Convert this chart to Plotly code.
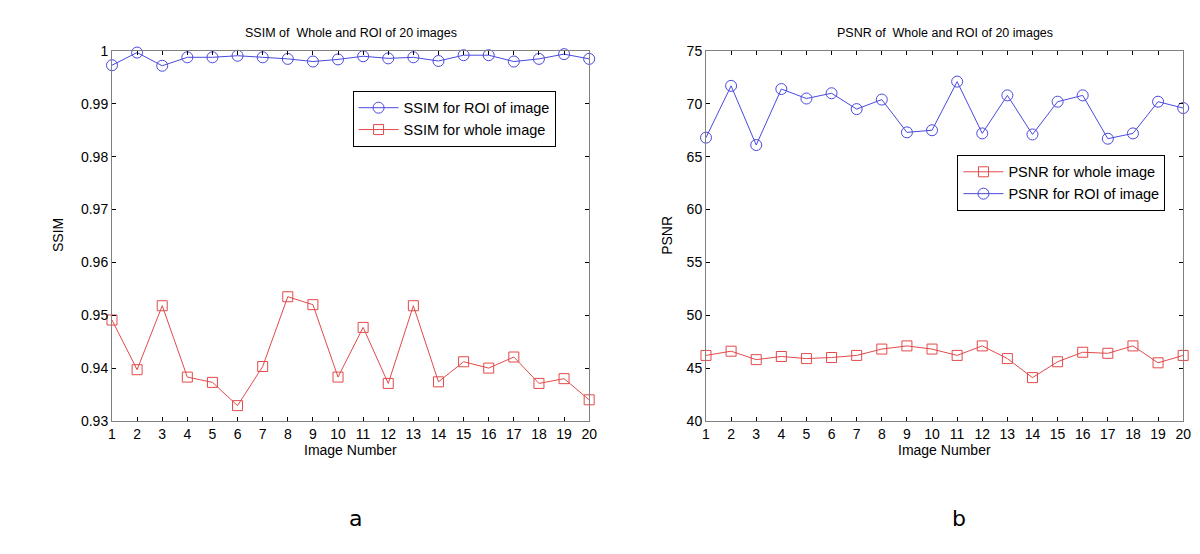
import plotly.graph_objects as go

image_numbers = list(range(1, 21))

ssim_roi = [0.9973, 0.9997, 0.9972, 0.9988, 0.9988, 0.9991, 0.9988, 0.9985, 0.9980, 0.9984,
            0.9990, 0.9986, 0.9988, 0.9981, 0.9992, 0.9992, 0.9980, 0.9985, 0.9994, 0.9985]
ssim_whole = [0.9491, 0.9397, 0.9518, 0.9383, 0.9373, 0.9329, 0.9403, 0.9535, 0.9520, 0.9383,
              0.9477, 0.9371, 0.9518, 0.9374, 0.9412, 0.9400, 0.9421, 0.9371, 0.9380, 0.9340]
psnr_whole = [46.2, 46.6, 45.8, 46.1, 45.9, 46.0, 46.2, 46.8, 47.1, 46.8,
              46.2, 47.1, 45.9, 44.1, 45.6, 46.5, 46.4, 47.1, 45.5, 46.2]
psnr_roi = [66.8, 71.7, 66.1, 71.4, 70.5, 71.0, 69.5, 70.4, 67.3, 67.5,
            72.1, 67.2, 70.8, 67.1, 70.2, 70.8, 66.7, 67.2, 70.2, 69.6]

ssim_ticks = [0.93, 0.94, 0.95, 0.96, 0.97, 0.98, 0.99, 1]
ssim_ticklabels = ["0.93", "0.94", "0.95", "0.96", "0.97", "0.98", "0.99", "1"]
psnr_ticks = [40, 45, 50, 55, 60, 65, 70, 75]

BLUE = "#4a4ade"
RED = "#e24a4a"
FONT = "Liberation Sans, Arial, sans-serif"

fig = go.Figure()

fig.add_trace(go.Scatter(x=image_numbers, y=ssim_roi, mode="lines+markers", name="SSIM for ROI of image",
                         line=dict(color=BLUE, width=1),
                         marker=dict(symbol="circle-open", size=11, color=BLUE, line=dict(width=1)),
                         xaxis="x", yaxis="y", legend="legend", cliponaxis=False))
fig.add_trace(go.Scatter(x=image_numbers, y=ssim_whole, mode="lines+markers", name="SSIM for whole image",
                         line=dict(color=RED, width=1),
                         marker=dict(symbol="square-open", size=10, color=RED, line=dict(width=1)),
                         xaxis="x", yaxis="y", legend="legend", cliponaxis=False))
fig.add_trace(go.Scatter(x=image_numbers, y=psnr_whole, mode="lines+markers", name="PSNR for whole image",
                         line=dict(color=RED, width=1),
                         marker=dict(symbol="square-open", size=10, color=RED, line=dict(width=1)),
                         xaxis="x2", yaxis="y2", legend="legend2", cliponaxis=False))
fig.add_trace(go.Scatter(x=image_numbers, y=psnr_roi, mode="lines+markers", name="PSNR for ROI of image",
                         line=dict(color=BLUE, width=1),
                         marker=dict(symbol="circle-open", size=11, color=BLUE, line=dict(width=1)),
                         xaxis="x2", yaxis="y2", legend="legend2", cliponaxis=False))

W, H = 1200, 554
def px_x(p): return p / W
def px_y(p): return 1 - p / H

axis_common = dict(showline=True, linecolor="#808080", linewidth=1, mirror="allticks",
                   ticks="inside", ticklen=4, tickcolor="#000000", tickwidth=1,
                   showgrid=False, zeroline=False,
                   tickfont=dict(family=FONT, size=14, color="#000000"))

legend_common = dict(xanchor="left", yanchor="top", bgcolor="white",
                     bordercolor="#000000", borderwidth=1, itemwidth=40,
                     font=dict(family=FONT, size=14.5, color="#000000"), tracegroupgap=0)

fig.update_layout(
    width=W, height=H,
    margin=dict(l=0, r=0, t=0, b=0),
    paper_bgcolor="white", plot_bgcolor="white",
    showlegend=True,
    xaxis=dict(domain=[px_x(101), px_x(583)], range=[1, 20], tickvals=image_numbers, anchor="y", **axis_common),
    yaxis=dict(domain=[px_y(417), px_y(36)], range=[0.93, 1], tickvals=ssim_ticks, ticktext=ssim_ticklabels,
               anchor="x", **axis_common),
    xaxis2=dict(domain=[px_x(701), px_x(1183)], range=[1, 20], tickvals=image_numbers, anchor="y2", **axis_common),
    yaxis2=dict(domain=[px_y(417), px_y(36)], range=[40, 75], tickvals=psnr_ticks, anchor="x2", **axis_common),
    legend=dict(x=px_x(344), y=px_y(77), **legend_common),
    legend2=dict(x=px_x(955), y=px_y(143), **legend_common),
)

annots = [
    dict(text="SSIM of  Whole and ROI of 20 images", x=px_x(342), y=px_y(18), size=12.5),
    dict(text="PSNR of  Whole and ROI of 20 images", x=px_x(942), y=px_y(18), size=12.5),
    dict(text="Image Number", x=px_x(342), y=px_y(447), size=14),
    dict(text="Image Number", x=px_x(942), y=px_y(447), size=14),
    dict(text="SSIM", x=px_x(47), y=px_y(226), size=14, angle=-90),
    dict(text="PSNR", x=px_x(662), y=px_y(226), size=14, angle=-90),
]
for a in annots:
    fig.add_annotation(text=a["text"], x=a["x"], y=a["y"], xref="paper", yref="paper",
                       xanchor="center", yanchor="middle", showarrow=False,
                       textangle=a.get("angle", 0),
                       font=dict(family=FONT, size=a["size"], color="#000000"))

for lbl, xp in [("a", 347), ("b", 957)]:
    fig.add_annotation(text=lbl, x=px_x(xp), y=px_y(517), xref="paper", yref="paper",
                       xanchor="center", yanchor="middle", showarrow=False,
                       font=dict(family="DejaVu Sans, sans-serif", size=22, color="#000000"))

fig.write_html("out.html")
